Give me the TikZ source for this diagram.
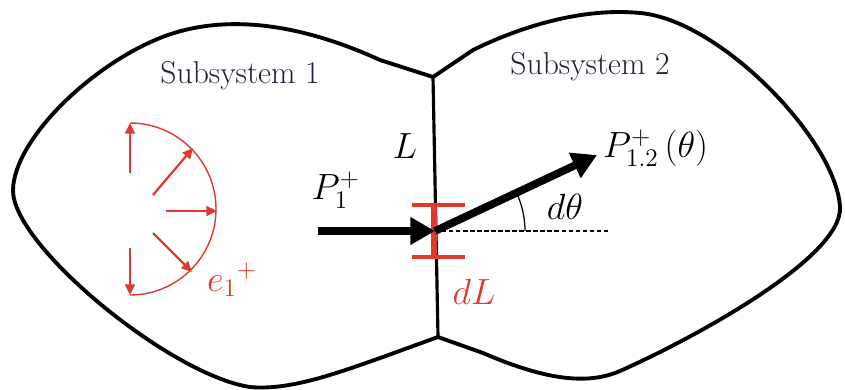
\documentclass[tikz,border=0pt]{standalone}
\usetikzlibrary{arrows.meta}
\definecolor{edgered}{RGB}{222,58,46}
\definecolor{labelnavy}{RGB}{30,34,52}
\begin{document}
\begin{tikzpicture}[x=0.02cm,y=-0.02cm,
  wall/.style={line width=2.2pt,line cap=round,line join=round},
  flux/.style={line width=4.4pt,-{Triangle[length=14pt,width=15pt]}},
  ray/.style={edgered,line width=1.3pt,-{Triangle[length=6pt,width=5.5pt]}},
  sysname/.style={text=labelnavy,font=\rmfamily\fontsize{18}{21}\selectfont},
  sym/.style={font=\fontsize{20}{24}\selectfont}]
  \useasboundingbox (0,0) rectangle (845,389);
  % junctions
  \coordinate (jtop) at (433,77);
  \coordinate (jbot) at (438,337);
  \coordinate (hit) at (435,231);
  % subsystem 1 outline
  \draw[wall] (jtop) -- (380,60)
    .. controls (310,28) and (230,10) .. (160,38)
    .. controls (90,66) and (14,140) .. (13,190)
    .. controls (12,245) and (170,375) .. (250,387)
    .. controls (290,391) and (340,372) .. (383,357) -- (jbot);
  % subsystem 2 outline
  \draw[wall] (jtop) -- (473,50)
    .. controls (530,22) and (590,8) .. (640,13)
    .. controls (720,20) and (836,140) .. (840,207)
    .. controls (843,258) and (690,340) .. (620,371)
    .. controls (590,384) and (550,382) .. (483,353) -- (jbot);
  % interface L
  \draw[line width=1.8pt] (jtop) -- (jbot);
  % reference line
  \draw[line width=0.8pt,dash pattern=on 2.5pt off 1.5pt] (hit) -- (610,231);
  % element dL
  \draw[edgered,line width=3.5pt] (434,205) -- (434,257);
  \draw[edgered,line width=1.8pt] (412,205) -- (465,205);
  \draw[edgered,line width=1.8pt] (412,257) -- (465,257);
  % incident and transmitted power
  \coordinate (src) at (318,231);
  \coordinate (tip) at (597,155);
  \draw[flux] (src) -- (hit);
  \draw[flux] (hit) -- (tip);
  % angle
  \draw[line width=0.7pt] (hit) ++(90,0) arc[start angle=0,end angle=-24,radius=90];
  % emission directions
  \draw[edgered,line width=0.8pt] (130,123) arc[start angle=-90,end angle=90,radius=86];
  \draw[ray] (130,173) -- (130,123);
  \draw[ray] (153,195) -- (193,148);
  \draw[ray] (166,211) -- (217,211);
  \draw[ray] (153,233) -- (192,272);
  \draw[ray] (130,248) -- (130,295);
  % labels
  \node[sysname] (sub1) at (240,76) {Subsystem 1};
  \node[sysname] (sub2) at (590,67) {Subsystem 2};
  \node[sym] (lenL) at (405,146) {$L$};
  \node[sym] (pin) at (336,190) {$P_1^+$};
  \node[sym,font=\fontsize{22}{26}\selectfont,anchor=west,inner sep=1pt] (pout) at (601,148) {$P^{+}_{1.2}\,(\theta)$};
  \node[sym] (dth) at (565,207) {$d\theta$};
  \node[sym,text=edgered] (dl) at (474,292) {$dL$};
  \node[sym,text=edgered] (e1) at (232,280) {$e_1{}^+$};
\end{tikzpicture}
\end{document}
